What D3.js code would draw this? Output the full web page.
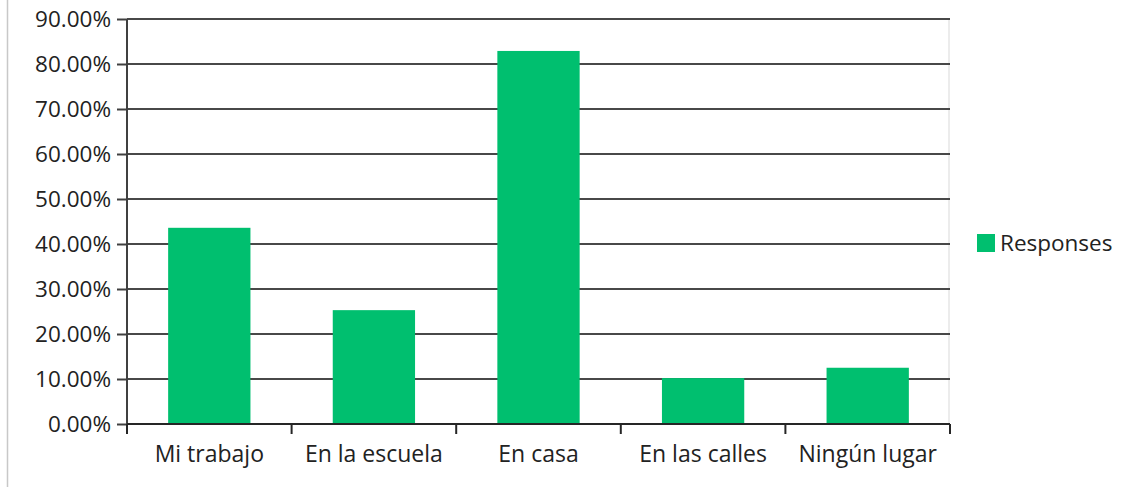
<!DOCTYPE html>
<html>
<head>
<meta charset="utf-8">
<script src="https://cdn.jsdelivr.net/npm/d3@7"></script>
<style>
  body { margin: 0; background: #fff; }
  svg text { font-family: "Open Sans", sans-serif; fill: #222; }
</style>
</head>
<body>
<div id="chartDiv"></div>
<script>
var categories = ["Mi trabajo", "En la escuela", "En casa", "En las calles", "Ningún lugar"];
var responses = [43.6, 25.3, 82.9, 10.2, 12.5];
var yTicks = [0, 10, 20, 30, 40, 50, 60, 70, 80, 90];
var seriesName = "Responses";

var outerWidth = 1128, outerHeight = 487;
var margin = {top: 19, right: 178, bottom: 63, left: 127};
var width = outerWidth - margin.left - margin.right,
    height = outerHeight - margin.top - margin.bottom;

var svg = d3.select("#chartDiv")
    .append("svg")
    .attr("width", outerWidth)
    .attr("height", outerHeight);

// left frame line of the picture
svg.append("line")
    .attr("x1", 7.5).attr("x2", 7.5)
    .attr("y1", 0).attr("y2", outerHeight)
    .style("stroke", "#c8c8c8")
    .style("stroke-width", 1.5);

var g = svg.append("g")
    .attr("transform", "translate(" + margin.left + "," + margin.top + ")");

var x = d3.scaleBand()
    .domain(categories)
    .range([0, width])
    .paddingInner(0.5)
    .paddingOuter(0.25);

var y = d3.scaleLinear()
    .domain([0, 90])
    .range([height, 0]);

// right edge of plot area
g.append("line")
    .attr("x1", width - 1).attr("x2", width - 1)
    .attr("y1", 0).attr("y2", height)
    .style("stroke", "#e6e6e6")
    .style("stroke-width", 1.5);

// gridlines
g.selectAll(".grid")
    .data(yTicks.filter(function(d){ return d > 0; }))
    .enter().append("line")
    .attr("class", "grid")
    .attr("x1", 0).attr("x2", width)
    .attr("y1", function(d){ return y(d); })
    .attr("y2", function(d){ return y(d); })
    .style("stroke", "#484848")
    .style("stroke-width", 2);

// bars
g.selectAll(".bar")
    .data(responses)
    .enter().append("rect")
    .attr("class", "bar")
    .attr("x", function(d, i){ return x(categories[i]); })
    .attr("width", x.bandwidth())
    .attr("y", function(d){ return y(d); })
    .attr("height", function(d){ return height - y(d); })
    .style("fill", "#00bf6f");

// y axis
var yAxis = d3.axisLeft(y)
    .tickValues(yTicks)
    .tickSize(10)
    .tickPadding(6)
    .tickFormat(function(d){ return d.toFixed(2) + "%"; });

var yAxisGroup = g.append("g")
    .attr("class", "y-axis")
    .call(yAxis);
yAxisGroup.select(".domain").remove();
yAxisGroup.append("line")
    .attr("x1", 0).attr("x2", 0)
    .attr("y1", 0).attr("y2", height)
    .style("stroke", "#404040")
    .style("stroke-width", 2);
yAxisGroup.selectAll(".tick line").style("stroke", "#404040").style("stroke-width", 2);
yAxisGroup.selectAll("text")
    .style("font-size", "22.5px")
    .attr("dy", "0.35em");

// x axis with ticks between categories
var xEdges = d3.scaleLinear().domain([0, categories.length]).range([0, width]);
var xAxisGroup = g.append("g")
    .attr("class", "x-axis")
    .attr("transform", "translate(0," + height + ")");
xAxisGroup.append("line")
    .attr("x1", 0).attr("x2", width)
    .style("stroke", "#262626")
    .style("stroke-width", 2);
xAxisGroup.selectAll(".xtick")
    .data(d3.range(categories.length + 1))
    .enter().append("line")
    .attr("class", "xtick")
    .attr("x1", function(d){ return xEdges(d); })
    .attr("x2", function(d){ return xEdges(d); })
    .attr("y1", 0).attr("y2", 10)
    .style("stroke", "#262626")
    .style("stroke-width", 2);
xAxisGroup.selectAll(".xlabel")
    .data(categories)
    .enter().append("text")
    .attr("class", "xlabel")
    .attr("x", function(d){ return x(d) + x.bandwidth() / 2; })
    .attr("y", 38)
    .attr("text-anchor", "middle")
    .style("font-size", "23px")
    .text(function(d){ return d; });

// legend
var legend = svg.append("g")
    .attr("transform", "translate(977,234)");
legend.append("rect")
    .attr("width", 18).attr("height", 18)
    .style("fill", "#00bf6f");
legend.append("text")
    .attr("x", 23).attr("y", 9)
    .attr("dy", "0.35em")
    .style("font-size", "22.5px")
    .text(seriesName);
</script>
</body>
</html>
